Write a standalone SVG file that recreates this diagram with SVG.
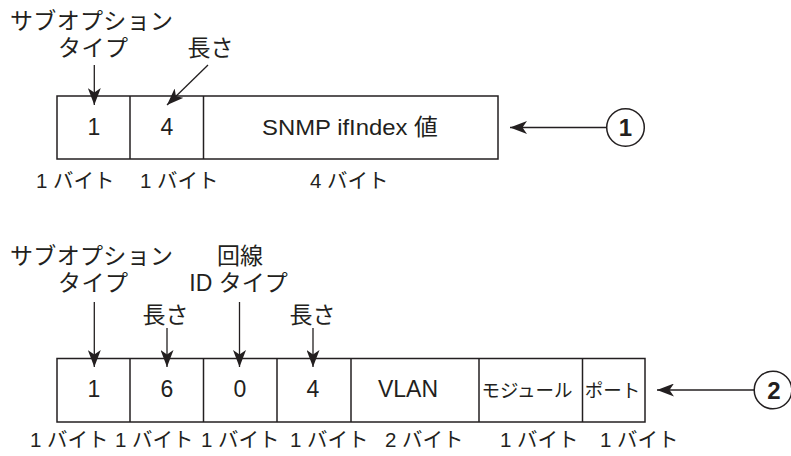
<svg xmlns="http://www.w3.org/2000/svg" width="791" height="456" viewBox="0 0 791 456">
<style>
  .box { fill: #fff; stroke: #231f20; stroke-width: 1.5; }
  .div { stroke: #231f20; stroke-width: 1.5; fill: none; }
  .conn { stroke: #231f20; stroke-width: 1.3; fill: none; marker-end: url(#ah); }
  .lbl { font-family: "Liberation Sans", "Noto Sans CJK JP", sans-serif; font-size: 23px; fill: #231f20; text-anchor: middle; }
  .val { font-family: "Liberation Sans", "Noto Sans CJK JP", sans-serif; font-size: 23px; fill: #231f20; text-anchor: middle; }
  .sml { font-family: "Liberation Sans", "Noto Sans CJK JP", sans-serif; font-size: 20.5px; fill: #231f20; }
  .num { font-family: "Liberation Sans", sans-serif; font-size: 24px; font-weight: bold; fill: #231f20; text-anchor: middle; }
  .circ { fill: #fff; stroke: #231f20; stroke-width: 1.5; }
</style>
<defs>
  <marker id="ah" viewBox="0 0 17 13" refX="17" refY="6.5" markerWidth="17" markerHeight="13" markerUnits="userSpaceOnUse" orient="auto">
    <path d="M0,0 L17,6.5 L0,13 L4.5,6.5 Z" fill="#231f20"/>
  </marker>
</defs>
<rect width="791" height="456" fill="#fff"/>

<!-- Diagram 1 -->
<g id="packet1">
  <rect class="box" x="57" y="96" width="441" height="63"/>
  <line class="div" x1="130" y1="96" x2="130" y2="159"/>
  <line class="div" x1="203.5" y1="96" x2="203.5" y2="159"/>
  <text class="val" x="94" y="135">1</text>
  <text class="val" x="167" y="135">4</text>
  <text class="val" x="350" y="135" textLength="176" lengthAdjust="spacingAndGlyphs" style="font-size:22.5px">SNMP ifIndex 値</text>
</g>
<g id="labels1">
  <text class="lbl" x="91.5" y="29" textLength="163" lengthAdjust="spacing">サブオプション</text>
  <text class="lbl" x="93" y="56" textLength="70" lengthAdjust="spacing">タイプ</text>
  <text class="lbl" x="210.5" y="56" textLength="46" lengthAdjust="spacing">長さ</text>
  <text class="sml" x="36" y="188">1 バイト</text>
  <text class="sml" x="140" y="188">1 バイト</text>
  <text class="sml" x="310" y="188">4 バイト</text>
</g>
<g id="callout1">
  <circle class="circ" cx="625.5" cy="127.5" r="18.8"/>
  <text class="num" x="625.5" y="136">1</text>
</g>

<!-- Diagram 2 -->
<g id="packet2">
  <rect class="box" x="57" y="358.5" width="588" height="63.5"/>
  <line class="div" x1="130" y1="358.5" x2="130" y2="422"/>
  <line class="div" x1="203.5" y1="358.5" x2="203.5" y2="422"/>
  <line class="div" x1="277" y1="358.5" x2="277" y2="422"/>
  <line class="div" x1="351" y1="358.5" x2="351" y2="422"/>
  <line class="div" x1="479" y1="358.5" x2="479" y2="422"/>
  <line class="div" x1="582.5" y1="358.5" x2="582.5" y2="422"/>
  <text class="val" x="94" y="397">1</text>
  <text class="val" x="167" y="397">6</text>
  <text class="val" x="240" y="397">0</text>
  <text class="val" x="313" y="397">4</text>
  <text class="val" x="408" y="397">VLAN</text>
  <text class="val" x="527" y="397" style="font-size:18.5px">モジュール</text>
  <text class="val" x="612.5" y="397" style="font-size:18.5px">ポート</text>
</g>
<g id="labels2">
  <text class="lbl" x="91.5" y="264" textLength="163" lengthAdjust="spacing">サブオプション</text>
  <text class="lbl" x="240" y="264" textLength="46" lengthAdjust="spacing">回線</text>
  <text class="lbl" x="93" y="291" textLength="70" lengthAdjust="spacing">タイプ</text>
  <text class="lbl" x="238.5" y="291">ID タイプ</text>
  <text class="lbl" x="165.5" y="323" textLength="46" lengthAdjust="spacing">長さ</text>
  <text class="lbl" x="312.5" y="323" textLength="46" lengthAdjust="spacing">長さ</text>
  <text class="sml" x="30" y="447">1 バイト</text>
  <text class="sml" x="115" y="447">1 バイト</text>
  <text class="sml" x="201" y="447">1 バイト</text>
  <text class="sml" x="290" y="447">1 バイト</text>
  <text class="sml" x="385" y="447">2 バイト</text>
  <text class="sml" x="500" y="447">1 バイト</text>
  <text class="sml" x="600" y="447">1 バイト</text>
</g>
<g id="callout2">
  <circle class="circ" cx="773" cy="390" r="18.8"/>
  <text class="num" x="774" y="398.5">2</text>
</g>

<g id="connectors">
  <line class="conn" x1="94.3" y1="65" x2="94.3" y2="105"/>
  <line class="conn" x1="208" y1="65" x2="167" y2="105"/>
  <line class="conn" x1="606.7" y1="127.5" x2="510" y2="127.5"/>
  <line class="conn" x1="94.3" y1="302" x2="94.3" y2="367"/>
  <line class="conn" x1="167" y1="328" x2="167" y2="367"/>
  <line class="conn" x1="239.5" y1="302" x2="239.5" y2="367"/>
  <line class="conn" x1="313" y1="328" x2="313" y2="367"/>
  <line class="conn" x1="754" y1="390" x2="657" y2="390"/>
</g>
</svg>
